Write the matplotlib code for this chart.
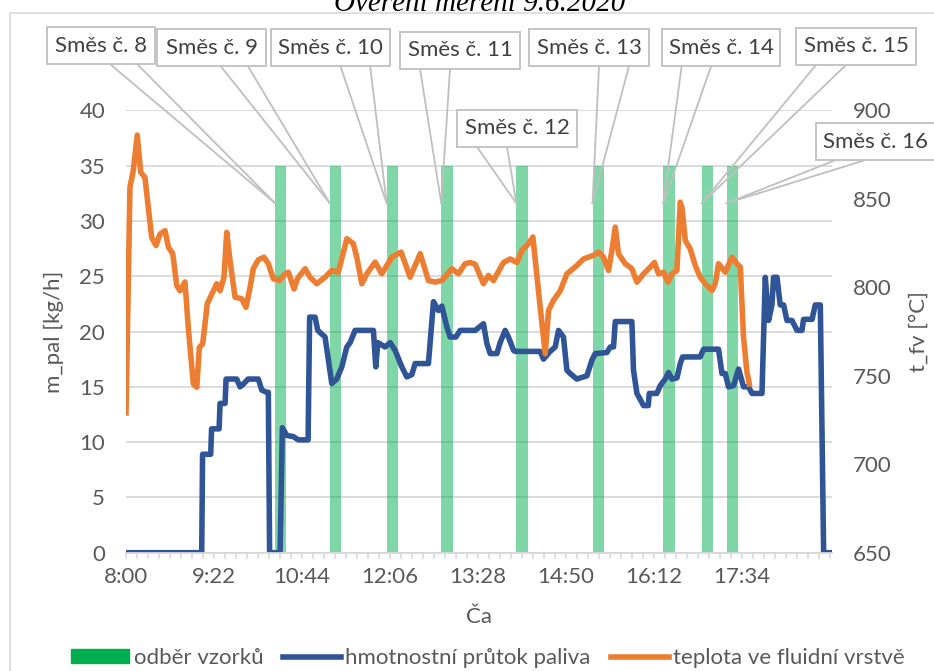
import matplotlib
matplotlib.use('Agg')
import matplotlib.pyplot as plt
from matplotlib.patches import Rectangle, Patch
from matplotlib.lines import Line2D
from matplotlib.ticker import FixedLocator, MultipleLocator, FuncFormatter

plt.rcParams['font.family'] = ['Lato', 'DejaVu Sans']

W, H = 934, 671

# hmotnostní průtok paliva, čas v minutách od 8:00
t_pal = [0, 70.6, 71.4, 79, 79.8, 86.8, 87.7, 92.4, 93.3, 103.3, 106.3, 109, 113.8, 123.4,
         126.6, 131.2, 132.7, 133.9, 143.7, 145.8, 149.9, 156, 160.7, 169.8, 171.2, 176.3,
         178.8, 185.6, 191.9, 196.5, 201.2, 205.9, 209, 213.6, 230.7, 232.9, 234.8, 241.6,
         246.3, 250.9, 257.2, 261.8, 266.5, 269.6, 282, 286.7, 291.3, 294.5, 299.2, 302.2,
         307.6, 311.6, 325.6, 333.3, 336.5, 339.6, 345.8, 348.9, 353.5, 356.6, 361.3, 362.9,
         386.2, 389.3, 395.5, 400.2, 403.3, 407.9, 411.1, 414.2, 420.4, 429.8, 434.4, 437.5,
         448.4, 451.5, 454.6, 456.2, 471.7, 473.2, 476.4, 482.6, 487, 487.9, 495, 498.1,
         502.8, 505.9, 509, 513.7, 516.8, 519, 535.4, 538.5, 552.5, 555.7, 558.8, 561.8,
         566.5, 571.2, 575.8, 580.5, 583.7, 593, 596.1, 599.2, 602.3, 603.8, 607, 610,
         613.2, 616.3, 621, 625.7, 630.3, 631.8, 639.7, 642.7, 647.4, 650.5, 658.3]
m_pal = [0, 0, 8.9, 8.9, 11.2, 11.2, 13.5, 13.5, 15.7, 15.7, 15.0, 15.2, 15.7, 15.7,
         14.7, 14.5, 14.5, 0, 0, 11.3, 10.6, 10.5, 10.2, 10.2, 21.3, 21.3,
         20.1, 19.5, 15.3, 15.7, 16.8, 18.6, 19.0, 20.1, 20.1, 16.8, 19.0, 18.6,
         19.0, 18.3, 16.8, 15.9, 16.1, 17.1, 17.1, 22.7, 21.9, 22.3, 20.4, 19.5,
         19.5, 20.1, 20.1, 20.7, 18.9, 18.0, 18.0, 19.0, 20.1, 19.5, 18.3, 18.2,
         18.2, 17.5, 18.2, 18.6, 20.1, 19.5, 16.5, 16.2, 15.7, 16.0, 17.4, 18.0,
         18.1, 18.6, 18.6, 20.9, 20.9, 16.5, 14.4, 13.3, 13.3, 14.4, 14.4, 15.1,
         15.7, 16.3, 15.7, 15.8, 17.1, 17.7, 17.7, 18.4, 18.4, 16.2, 16.2, 15.0,
         15.1, 16.6, 15.0, 15.0, 14.4, 14.4, 24.9, 21.0, 22.4, 24.9, 24.9, 22.4,
         22.4, 21.0, 21.0, 20.1, 20.1, 21.1, 21.1, 22.4, 22.4, 0, 0]

# teplota ve fluidní vrstvě
t_temp = [0, 3.7, 6.8, 10.5, 13.7, 17.7, 20.8, 24, 28, 31.7, 36.4, 39.5, 43.6, 47.3, 50.4,
          55, 58.1, 62.8, 66, 68.4, 71.5, 75.8, 79.9, 84.6, 87.7, 91.4, 93.9, 97, 101.7,
          107.9, 111.9, 115.7, 118.7, 123.4, 128.7, 132.7, 137.4, 143, 148.3, 151.4, 156.7,
          159.8, 167, 171.6, 177.9, 185.6, 191.9, 198, 205.9, 212, 215.2, 219.9, 224.5,
          232.3, 238.5, 247.9, 256.5, 264.9, 274.3, 282, 288.2, 294.5, 303.8, 310, 316.2,
          320.9, 325.6, 333.3, 338, 342.6, 352, 358.2, 364.5, 369.1, 375.3, 379.4, 386.2,
          390.9, 394, 398.6, 404.9, 411.1, 420.4, 426.6, 435.9, 440.6, 445.2, 449.9, 453.1,
          456.2, 459.2, 465.5, 471.7, 476.4, 482.6, 488.8, 492.8, 496.5, 501.2, 505.3, 509,
          513.7, 516.8, 518.4, 521.5, 526.1, 530.8, 535.4, 540.1, 546.4, 549.4, 552.5, 558.8,
          565, 569.7, 572.8, 575.8, 579, 581.2]
t_fv = [729, 856.6, 866, 886, 865, 862, 845, 828, 823.6, 830, 832, 822.7, 819, 801, 798,
        803, 777, 745.4, 743.5, 766, 768, 790.7, 796, 802, 798, 805.7, 831, 815, 794.4,
        793.5, 788.7, 800, 810.5, 815.5, 817, 813.3, 804.8, 803.8, 807.6, 808.5, 799,
        804.8, 810.5, 805.7, 802, 805.7, 809.5, 808.5, 827.4, 824.6, 817, 802, 807.6,
        814.2, 807.6, 817, 819.9, 805.7, 819, 803.8, 802.9, 803.8, 810.5, 807.6, 813.3,
        814, 813, 802, 806.7, 803.8, 814, 816, 814, 820.8, 824.6, 828.4, 788.7,
        762.4, 786.9, 792.6, 798, 807.6, 812.3, 816, 818, 819.9, 817, 809.5, 820.8,
        834, 819, 813.3, 810.5, 802.9, 807.6, 811.4, 814, 807.6, 808.5, 802.9, 807.6,
        809.5, 848.1, 845, 826.5, 821.7, 812.3, 805.7, 802, 798.2, 802, 813.3, 808.5,
        817, 813.3, 811.4, 771.8, 752, 745.4]

# odběry vzorků
sample_start = ['10:19', '11:10', '12:03', '12:54', '14:04', '15:15', '16:21', '16:57', '17:20']
sample_names = ['Směs č. 8', 'Směs č. 9', 'Směs č. 10', 'Směs č. 11', 'Směs č. 12',
                'Směs č. 13', 'Směs č. 14', 'Směs č. 15', 'Směs č. 16']
sample_len = 10.5
sample_top = 35
label_at = 31.6

# popisky osy x po 82 minutách
x_ticks = [0, 82, 164, 246, 328, 410, 492, 574]

# rámečky popisků: levý okraj, horní okraj, šířka (px)
boxes = [(47, 27, 108), (157, 29, 109), (271, 29, 119), (400, 32, 120), (457, 110, 120),
         (529, 29, 120), (662, 29, 118), (796, 28, 120), (816, 123, 119)]
box_h = 37

blue = '#2F5597'
orange = '#ED7D31'
green = '#00B050'
grid = '#D9D9D9'
txt = '#595959'
fs = 16


def to_min(s):
    h, m = s.split(':')
    return (int(h) - 8) * 60 + int(m)


def hhmm(v, pos):
    v = int(round(v))
    return '%d:%02d' % (8 + v // 60, v % 60)


fig = plt.figure(figsize=(W / 100, H / 100), dpi=100)
ax = fig.add_axes([126 / W, 1 - 552.7 / H, 706 / W, 442.4 / H])
ax2 = ax.twinx()

starts = [to_min(s) for s in sample_start]
ax.bar(starts, [sample_top] * len(starts), width=sample_len, align='edge',
       color=green, alpha=0.5, linewidth=0, zorder=2)
ax.plot(t_pal, m_pal, color=blue, lw=4, solid_joinstyle='round', zorder=3)
ax2.plot(t_temp, t_fv, color=orange, lw=4, solid_joinstyle='round', zorder=3)

ax.set_xlim(0, 658.3)
ax.set_ylim(0, 40)
ax2.set_ylim(650, 900)
ax.yaxis.set_major_locator(MultipleLocator(5))
ax2.yaxis.set_major_locator(MultipleLocator(50))
ax.xaxis.set_major_locator(FixedLocator(x_ticks))
ax.xaxis.set_minor_locator(MultipleLocator(82 / 8))
ax.xaxis.set_major_formatter(FuncFormatter(hhmm))

ax.grid(axis='y', color=grid, lw=1.3, zorder=0)
ax.set_axisbelow(True)
for a in (ax, ax2):
    for side in ('top', 'left', 'right'):
        a.spines[side].set_visible(False)
    a.spines['bottom'].set_color(grid)
    a.spines['bottom'].set_linewidth(1.3)

ax.tick_params(axis='y', length=0, pad=15, labelsize=fs, labelcolor=txt)
ax2.tick_params(axis='y', length=0, pad=15, labelsize=fs, labelcolor=txt)
ax.tick_params(axis='x', which='both', length=4, color=grid, width=1.2,
               pad=6, labelsize=fs, labelcolor=txt)

ax.set_ylabel('m_pal [kg/h]', fontsize=fs, color=txt, va='center')
ax.yaxis.set_label_coords(-0.102, 0.5)
ax2.set_ylabel('t_fv [°C]', fontsize=fs, color=txt, va='center', rotation=90)
ax2.yaxis.set_label_coords(1.123, 0.5)
ax.set_xlabel('Ča', fontsize=fs, color=txt, va='center')
ax.xaxis.set_label_coords(0.5, -0.145)

# nadpis (přesahuje horní okraj)
fig.text(480 / W, 1 - 11 / H, 'Ověření měření 9.6.2020', fontsize=21, style='italic',
         family=['Liberation Serif', 'DejaVu Serif'], ha='center', va='baseline')

# rámeček grafu
fig.add_artist(Rectangle((10 / W, -0.1), 1.2, 1.1 - 13 / H, transform=fig.transFigure,
                         fill=False, ec=grid, lw=1.2))


def callout(name, box, t):
    x0, y0, w = box
    h = box_h
    left, top = x0, H - y0
    bottom = top - h
    cx, cy = left + w / 2, bottom + h / 2
    tx, ty = ax.transData.transform((t, label_at))
    dx, dy = tx - cx, ty - cy
    if abs(dx * h) < abs(dy * w):
        fr = (7, 10) if dx > 0 else (2, 5)
        ey = bottom if dy < 0 else top
        base = [(left + w * f / 12, ey) for f in fr]
    else:
        fr = (7, 10) if dy < 0 else (2, 5)
        ex = left + w if dx > 0 else left
        base = [(ex, top - h * f / 12) for f in fr]
    for bx, by in base:
        fig.add_artist(Line2D([bx / W, tx / W], [by / H, ty / H], transform=fig.transFigure,
                              color='#BFBFBF', lw=1.3, zorder=5))
    fig.add_artist(Rectangle((left / W, bottom / H), w / W, h / H, transform=fig.transFigure,
                             fc='white', ec='#BFBFBF', lw=1.3, zorder=6))
    fig.text(cx / W, cy / H, name, fontsize=fs, color='#404040', ha='center', va='center',
             zorder=7)


for name, box, t in zip(sample_names, boxes, starts):
    callout(name, box, t)

handles = [Patch(color=green),
           Line2D([], [], color=blue, lw=4),
           Line2D([], [], color=orange, lw=4)]
labels = ['odběr vzorků', 'hmotnostní průtok paliva', 'teplota ve fluidní vrstvě']
fig.legend(handles, labels, loc='center', bbox_to_anchor=(488 / W, 1 - 658 / H), ncol=3,
           frameon=False, fontsize=fs, labelcolor=txt, handlelength=2.6, handleheight=0.6,
           handletextpad=0.2, columnspacing=0.9)

fig.savefig('out.png', dpi=100)
